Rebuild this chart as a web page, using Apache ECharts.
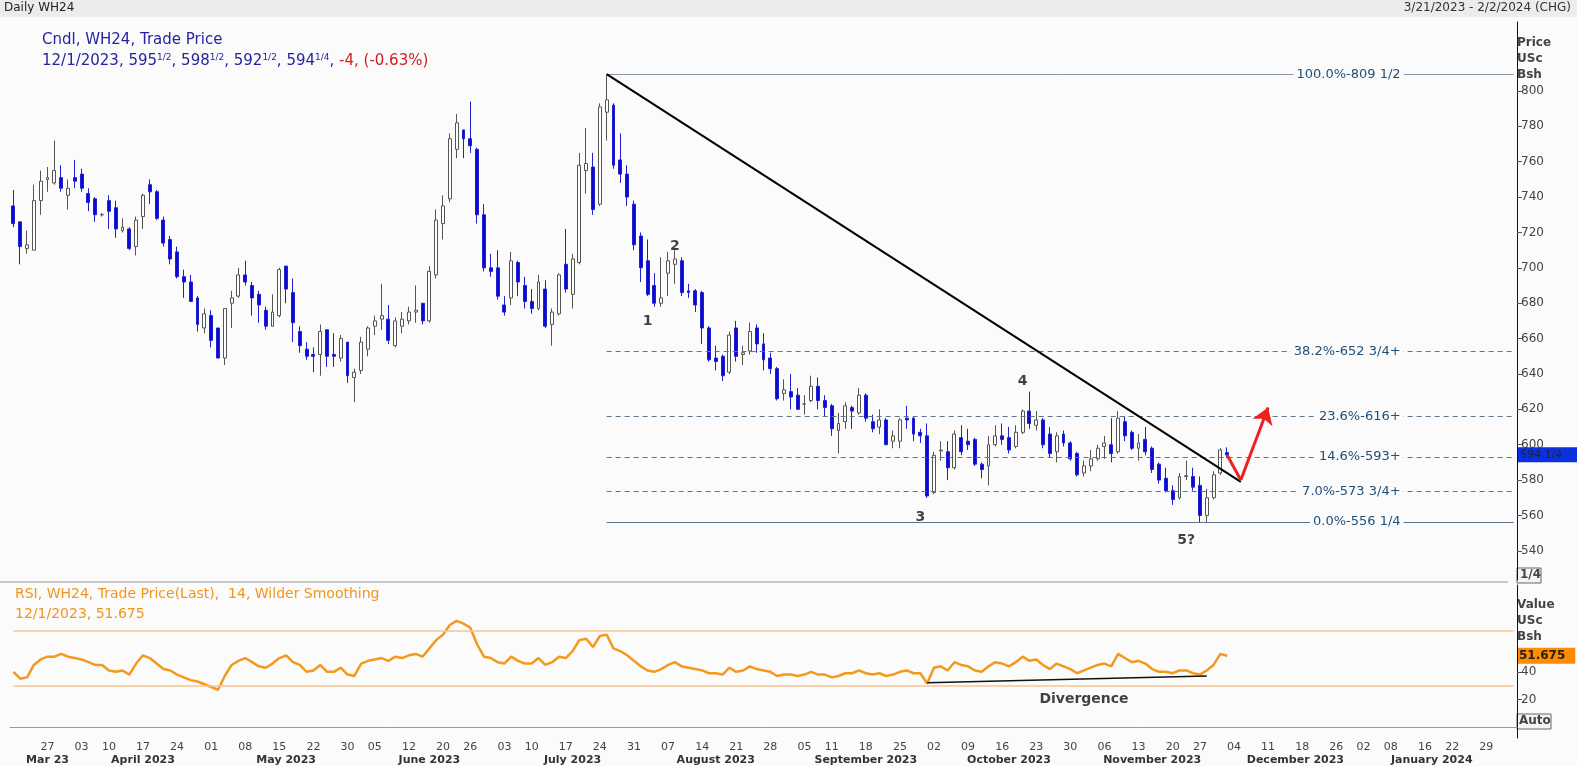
<!DOCTYPE html>
<html><head><meta charset="utf-8">
<script src="https://cdn.jsdelivr.net/npm/echarts@6/dist/echarts.min.js"></script>
<style>html,body{margin:0;padding:0;background:#fbfbfb}#c{width:1577px;height:766px}</style>
</head><body><div id="c"></div>
<script>
const holidays = ['2023-04-07','2023-05-29','2023-06-19','2023-07-04','2023-09-04','2023-11-23','2023-12-25','2024-01-01','2024-01-15'];
const opens = [735,726,711,710,738,750,748,751,741,751,753,742,739,730,738,734,721,722,712,729,747,743,727,716,709,695,692,683,666,673,666,649,680,684,696,690,685,676,667,673,701,686,664,654,651,651,665,651,649,658,638,642,654,667,671,671,656,667,670,675,680,670,696,725,739,767,778,773,767,730,700,700,679,683,703,690,681,677,688,668,674,702,685,703,755,757,736,788,792,761,753,736,718,704,690,680,697,702,704,687,687,686,666,649,650,641,666,651,653,666,657,649,643,629,630,628,623,625,633,625,622,608,613,621,618,628,613,610,614,602,602,615,615,607,605,573,596.5,596,587,604,602,603,589,588,600,605,604,599,607,619,611,614,606,596,606,601,595,584,588,592,599,600,596,613,607,598,603,598,589,581,574,570,582,582,577,560,570,584,595.5];
const closes = [725,712,713,738,749,751,755,745,745,749,745,737,730,730,732,722,723,711,727,741,743,728,714,705,695,692,681,668,674,659,649,677,683,696,692,683,679,667,675,699,688,669,656,650,650,664,650,650,660,639,641,658,666,670,673,659,670,671,675,676,670,698,727,735,773,782,773,769,730,700,698,684,675,704,692,681,677,692,667,675,696,688,705,758,759,733,791,795,758,753,740,713,700,685,680,683,704,705,686,686,679,666,648,647,639,662,650,652,664,657,648,643,626,631,627,620,623,633,625,621,609,612,622,619,628,615,609,614,600,605,614,614,606,605,571,594,597,587,606,596,600,589,586,600,605,603,597,607,619,612,614,600,595,605,601,592,583,588,592,598,601,595,615,605,598,601,596,586,580,574,569,582,582.5,576,560,570,583,597,594.25];
const lows = [723,702,708,710,730,743,747,743,733,745,743,732,726,729,722,717,720,710,707,722,736,727,712,702,694,683,681,664,663,655,649,645,666,683,690,673,669,665,667,672,680,658,652,648,641,639,644,644,647,635,624,640,650,662,665,657,655,663,668,669,668,669,694,716,737,762,762,765,725,698,695,682,673,679,684,677,674,676,666,656,673,686,677,702,742,730,735,772,756,748,735,710,692,684,678,678,684,691,684,683,675,657,647,642,636,640,647,645,651,652,642,640,625,625,620,620,617,624,620,616,605,595,609,609,617,613,607,606,600,598,598,609,602,601,570,572,591,580,586,594,597,588,581,577,599,600,595,598,606,609,608,598,593,590,599,591,582,582,585,591,592,590,595,602,597,591,594,584,578,573,566,569,580,574,556.25,556.25,569,583,592.5];
const highs = [744,726,721,747,755,757,772,758,750,761,756,745,740,731,741,738,728,723,729,742,750,744,729,718,712,699,696,684,677,676,666,677,687,700,704,692,687,678,685,700,701,694,667,658,655,668,665,663,662,658,643,661,667,673,691,679,672,675,678,690,680,701,733,741,776,787,778,794,768,736,708,710,684,709,704,695,688,696,693,677,697,722,708,765,779,765,793,809.5,793,776,758,738,720,716,697,706,709,710,706,691,688,687,667,656,651,664,670,656,669,668,663,652,644,637,640,632,628,639,638,628,623,618,624,622,632,629,617,620,615,608,615,622,616,609,612,596,602,602,608,611,609,604,590,605,611,612,610,611,620,630,619,615,610,607,608,602,596,591,597,600,605,615,619,616,608,606,610,599,590,587,577,584,591,587,582,575,585,598,598.5];
const rsi = [40,35,36,45,49,51,51,53,51,50,49,47,45,45,41,40,41,38,46,52,50,46,42,41,38,36,34,33,31,29,27,37,45,48,50,47,44,43,46,50,52,47,45,40,41,45,40,40,43,38,37,46,48,49,50,48,51,50,52,53,51,57,63,67,74,77,75,72,60,51,50,47,46,51,48,46,46,50,45,47,51,50,55,63,64,58,66,67,57,55,52,48,44,41,40,42,45,47,44,43,42,41,39,39,38,43,40,41,44,42,41,40,37,38,38,37,38,40,38,38,36,37,39,39,41,39,38,39,37,38,40,41,39,39,31.5,43,44,41,47,45,44,41,40,44,47,46,44,47,51,48,49,45,42,46,44,42,39,41,43,45,46,44,53,50,47,48,46,42,40,40,39,41,41,39,38,41,45,53,51.675];
const fibLevels = [809.5, 652.75, 616, 593, 573.75, 556.25];
const fibLabels = ['100.0%-809 1/2','38.2%-652 3/4+','23.6%-616+','14.6%-593+','7.0%-573 3/4+','0.0%-556 1/4'];
const fibDashed = [false, true, true, true, true, false];
const priceTicks = [540,560,580,600,620,640,660,680,700,720,740,760,780,800];
const rsiTicks = [20,40];
const waveText = ['1','2','3','4','5?'];
const waveIdx = [93,97,133,148,172];
const wavePrice = [670,712,559,636,546];
const lastPrice = 594.25, lastPriceText = '594 1/4';
const lastRsi = 51.675;
const monthNames = ['January','February','March','April','May','June','July','August','September','October','November','December'];

const dates = [];
for (let t = Date.UTC(2023,2,20); t <= Date.UTC(2024,1,2); t += 86400000) {
  const d = new Date(t); const w = d.getUTCDay();
  const s = d.toISOString().slice(0,10);
  if (w === 0 || w === 6 || holidays.includes(s)) continue;
  dates.push(s);
}
const dow = s => new Date(s + 'T00:00:00Z').getUTCDay();
const candles = opens.map((o,i)=>[o, closes[i], lows[i], highs[i]]);
const last = dates[dates.length-1];
const monthMid = new Set();
{ const groups = {}; dates.forEach((s,i)=>{ const k=s.slice(0,7); (groups[k]=groups[k]||[]).push(i); });
  Object.values(groups).forEach(g=>monthMid.add(g[Math.floor(g.length/2)])); }

const fibLines = fibLevels.map((v,i)=>[
  {coord:[dates[87], v], lineStyle:{type: fibDashed[i]?[5,4]:'solid', color: i===0?'#8a9aaa':'#5d7489', width:1},
   label:{formatter: fibLabels[i]}},
  {coord:[last, v]}]);

const chart = echarts.init(document.getElementById('c'));
const FONT = 'DejaVu Sans';
const TR = 'rgba(0,0,0,0)';
chart.setOption({
  animation:false,
  backgroundColor:'#fbfbfb',
  textStyle:{fontFamily:FONT},
  graphic:[
    {type:'rect', shape:{x:0,y:0,width:1577,height:17}, style:{fill:'#ececec'}},
    {type:'text', left:4, top:2, style:{text:'Daily WH24', fill:'#222', font:'12px '+FONT}},
    {type:'text', right:6, top:2, style:{text:'3/21/2023 - 2/2/2024 (CHG)', fill:'#333', font:'12px '+FONT}},
    {type:'text', left:42, top:33, style:{text:'Cndl, WH24, Trade Price', fill:'#2424a0', font:'15px '+FONT}},
    {type:'text', left:42, top:53, style:{rich:{
      b:{fill:'#2424a0', font:'15px '+FONT}, s:{fill:'#2424a0', font:'9px '+FONT, verticalAlign:'top', padding:[0,0,8,0]},
      r:{fill:'#d02020', font:'15px '+FONT}},
      text:'{b|12/1/2023, 595}{s|1/2}{b|, 598}{s|1/2}{b|, 592}{s|1/2}{b|, 594}{s|1/4}{b|, }{r|-4, (-0.63%)}'}},
    {type:'text', left:1517, top:35, style:{text:'Price\nUSc\nBsh', fill:'#444', font:'bold 12px '+FONT, lineHeight:16}},
    {type:'rect', shape:{x:1517,y:568,width:24,height:15}, style:{fill:'#f4f4f4', stroke:'#666'}},
    {type:'text', left:1520, top:569, style:{text:'1/4', fill:'#444', font:'bold 12px '+FONT}},
    {type:'rect', shape:{x:0,y:581,width:1508,height:2}, style:{fill:'#c8c8c8'}},
    {type:'text', left:15, top:587, style:{text:'RSI, WH24, Trade Price(Last),  14, Wilder Smoothing', fill:'#f0961e', font:'14px '+FONT}},
    {type:'text', left:15, top:607, style:{text:'12/1/2023, 51.675', fill:'#f0961e', font:'14px '+FONT}},
    {type:'text', left:1517, top:597, style:{text:'Value\nUSc\nBsh', fill:'#444', font:'bold 12px '+FONT, lineHeight:16}},
    {type:'rect', shape:{x:1517,y:714,width:34,height:15}, style:{fill:'#f4f4f4', stroke:'#666'}},
    {type:'text', left:1519, top:715, style:{text:'Auto', fill:'#444', font:'bold 12px '+FONT}}
  ],
  grid:[{left:10, right:60, top:22, height:558},{left:10, right:60, top:585, height:153}],
  xAxis:[
    {type:'category', data:dates, gridIndex:0, boundaryGap:true, axisLine:{show:false}, axisTick:{show:false}, axisLabel:{show:false}},
    {type:'category', data:dates, gridIndex:1, boundaryGap:true, axisLine:{lineStyle:{color:'#999'}},
     axisTick:{interval:(i,v)=> i>0 && dow(v) < dow(dates[i-1]), length:3, lineStyle:{color:'#888'}},
     axisLabel:{interval:(i,v)=> i>0 && dow(v) < dow(dates[i-1]), formatter:v=>v.slice(8), color:'#444', fontSize:11, margin:4}},
    {type:'category', data:dates, gridIndex:1, boundaryGap:true, position:'bottom', offset:14,
     axisLine:{show:false},
     axisTick:{interval:(i,v)=> i>0 && v.slice(5,7)!==dates[i-1].slice(5,7), length:12, inside:true, lineStyle:{color:'#555'}},
     axisLabel:{interval:(i)=>monthMid.has(i), color:'#333', fontSize:11, fontWeight:'bold', margin:3,
       formatter:v=>{const m=+v.slice(5,7), y=v.slice(0,4); return (y==='2023'&&m===3)?'Mar 23':monthNames[m-1]+' '+y;}}}
  ],
  yAxis:[
    {type:'value', gridIndex:0, position:'right', min:523.5, max:839, scale:true,
     axisLine:{show:true, lineStyle:{color:'#111'}}, splitLine:{show:false},
     axisTick:{show:true, customValues:priceTicks, length:5, lineStyle:{color:'#555'}},
     axisLabel:{customValues:priceTicks, color:'#444', fontSize:12, margin:4}},
    {type:'value', gridIndex:1, position:'right', min:-8, max:103,
     axisLine:{show:true, lineStyle:{color:'#111'}}, splitLine:{show:false},
     axisTick:{show:true, customValues:rsiTicks, length:5, lineStyle:{color:'#555'}},
     axisLabel:{customValues:rsiTicks, color:'#444', fontSize:12, margin:4}}
  ],
  series:[
    {type:'candlestick', xAxisIndex:0, yAxisIndex:0, data:candles, barMaxWidth:6,
     itemStyle:{color:'#ffffff', color0:'#0a0ad0', borderColor:'#555555', borderColor0:'#2020d0', borderWidth:1},
     markLine:{symbol:'none', silent:true,
       label:{position:'insideEnd', distance:110, color:'#1f4f7a', fontSize:13, backgroundColor:'#fbfbfb', padding:[1,3]},
       data:[
         ...fibLines,
         [{coord:[dates[87],809.5], lineStyle:{color:'#000', width:2, type:'solid'}, label:{show:false}},{coord:[dates[180],579]}],
         [{coord:[dates[178],594], lineStyle:{color:'#ee2020', width:3, type:'solid'}, label:{show:false}},{coord:[dates[180],580]}],
         [{coord:[dates[180],580], symbol:'none', lineStyle:{color:'#ee2020', width:3, type:'solid'}, label:{show:false}},{coord:[dates[184],621], symbol:'arrow', symbolSize:16}]
       ]}},
    {type:'line', xAxisIndex:0, yAxisIndex:0, data:dates.map(()=>null), showSymbol:false, silent:true,
     markLine:{symbol:'none', silent:true,
       data:[{yAxis:lastPrice, lineStyle:{color:TR, width:0},
         label:{show:true, position:'end', distance:1, formatter:lastPriceText, color:'#223', backgroundColor:'#0a30e0', padding:[2,20,2,2], fontSize:11}}]}},
    {type:'scatter', xAxisIndex:0, yAxisIndex:0, symbolSize:0, silent:true,
     data: waveText.map((t,i)=>[dates[waveIdx[i]], wavePrice[i], t]),
     label:{show:true, position:'inside', formatter:p=>p.data[2], color:'#111', fontSize:14, fontWeight:'bold'}},
    {type:'line', xAxisIndex:1, yAxisIndex:1, data:rsi, showSymbol:false, lineStyle:{color:'#f39a1e', width:2.5}, itemStyle:{color:'#f39a1e'},
     markLine:{symbol:'none', silent:true, label:{show:false},
       data:[
         [{coord:[dates[0],70], lineStyle:{color:'#f7c590', width:1.5, type:'solid'}},{coord:[last,70]}],
         [{coord:[dates[0],30], lineStyle:{color:'#f7c590', width:1.5, type:'solid'}},{coord:[last,30]}],
         [{coord:[dates[134],32], lineStyle:{color:'#111', width:1.5, type:'solid'}},{coord:[dates[175],37]}],
         {yAxis:lastRsi, lineStyle:{color:TR, width:0}, label:{show:true, position:'end', distance:1, formatter:String(lastRsi), color:'#222', fontWeight:'bold', backgroundColor:'#ff8c00', padding:[2,10,2,1], fontSize:12}}
       ]}},
    {type:'scatter', xAxisIndex:1, yAxisIndex:1, symbolSize:0, silent:true,
     data:[[dates[157], 20, 'Divergence']],
     label:{show:true, position:'inside', formatter:p=>p.data[2], color:'#111', fontSize:14, fontWeight:'bold'}}
  ]
});
</script></body></html>
